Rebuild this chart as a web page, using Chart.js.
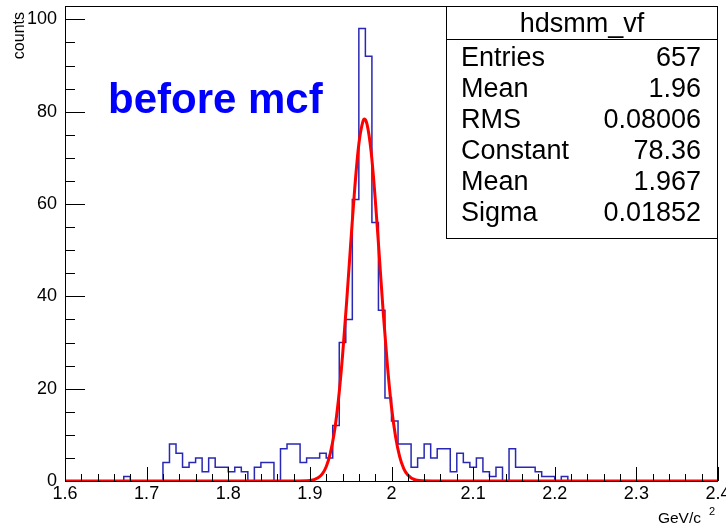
<!DOCTYPE html>
<html>
<head>
<meta charset="utf-8">
<script src="https://cdn.jsdelivr.net/npm/chart.js@4.4.1/dist/chart.umd.min.js"></script>
<style>
  html, body { margin: 0; padding: 0; background: #fff; }
  #wrap { width: 726px; height: 526px; }
</style>
</head>
<body>
<div id="wrap"><canvas id="histChart" width="726" height="526"></canvas></div>
<script>
// hdsmm_vf: 100 bins between 1.6 and 2.4 GeV/c^2
const xMin = 1.6;
const xMax = 2.4;
const yMax = 102.9;
const binWidth = 0.008;
const counts = [
  0, 0, 0, 0, 0, 0, 0, 0, 0, 1,
  0, 0, 0, 0, 0, 4, 8, 6, 3, 4,
  5, 2, 5, 3, 3, 2, 3, 2, 0, 3,
  4, 4, 0, 7, 8, 8, 4, 5, 5, 6,
  5, 12, 30, 35, 61, 98, 92, 56, 37, 18,
  13, 8, 8, 3, 5, 8, 5, 7, 7, 2,
  6, 4, 3, 5, 2, 1, 3, 0, 7, 3,
  3, 3, 2, 1, 1, 0, 1, 0, 0, 0,
  0, 0, 0, 0, 0, 0, 0, 0, 0, 0,
  0, 0, 0, 0, 0, 0, 0, 0, 0, 0
];

// gaus fit (red)
const fitX = [1.6, 1.88, 1.9, 1.91, 1.915, 1.92, 1.925, 1.93, 1.935, 1.94, 1.945, 1.95, 1.955, 1.96, 1.965, 1.967,
  1.97, 1.975, 1.98, 1.985, 1.99, 1.995, 2.0, 2.005, 2.01, 2.015, 2.02, 2.03, 2.05, 2.4];
const fitY = [0, 0, 0.1, 0.7, 1.5, 3.1, 6.0, 10.6, 17.6, 27.1, 38.7, 51.4, 63.5, 73.0, 77.9, 78.4,
  77.3, 71.4, 61.3, 48.9, 36.2, 25.0, 16.0, 9.6, 5.3, 2.7, 1.3, 0.2, 0, 0];

const statsTitle = "hdsmm_vf";
const statsNames = ["Entries", "Mean", "RMS", "Constant", "Mean", "Sigma"];
const statsValues = ["657", "1.96", "0.08006", "78.36", "1.967", "0.01852"];
const label = "before mcf";

const FONT = "'Liberation Sans', Arial, Helvetica, sans-serif";
Chart.defaults.font.family = FONT;
Chart.defaults.color = "#000";

// histogram outline: one point per bin low edge + closing edge
const histPoints = counts.map((c, i) => ({ x: xMin + i * binWidth, y: c }));
histPoints.push({ x: xMax, y: counts[counts.length - 1] });
const fitPoints = fitX.map((x, i) => ({ x: x, y: fitY[i] }));

// ROOT-like frame: inward ticks, stats box, text
const rootStyle = {
  id: "rootStyle",
  afterDatasetsDraw(chart) {
    const { ctx, chartArea: a, scales } = chart;
    const x = scales.x, y = scales.y;
    ctx.save();
    ctx.strokeStyle = "#000";
    ctx.lineWidth = 1;
    ctx.strokeRect(a.left + 0.5, a.top + 0.5, a.right - a.left - 1, a.bottom - a.top);
    ctx.beginPath();
    for (let i = 0; i <= 40; i++) {
      const px = Math.round(x.getPixelForValue(xMin + i * 0.02)) + 0.5;
      const len = i % 5 === 0 ? 14 : 7;
      ctx.moveTo(px, a.bottom);
      ctx.lineTo(px, a.bottom - len);
    }
    for (let v = 0; v <= 100; v += 5) {
      const py = Math.round(y.getPixelForValue(v)) + 0.5;
      const len = v % 20 === 0 ? 20 : 10;
      ctx.moveTo(a.left, py);
      ctx.lineTo(a.left + len, py);
    }
    ctx.stroke();
    ctx.restore();
  },
  afterDraw(chart) {
    const { ctx, chartArea: a } = chart;
    ctx.save();
    // stats box
    const bx = 446, by = a.top, bw = a.right - 446, bh = 232;
    ctx.fillStyle = "#fff";
    ctx.fillRect(bx, by, bw, bh);
    ctx.strokeStyle = "#000";
    ctx.lineWidth = 1;
    ctx.strokeRect(bx + 0.5, by + 0.5, bw - 1, bh);
    ctx.beginPath();
    ctx.moveTo(bx, 39.5);
    ctx.lineTo(bx + bw, 39.5);
    ctx.stroke();
    ctx.fillStyle = "#000";
    ctx.font = "27px " + FONT;
    ctx.textBaseline = "alphabetic";
    ctx.textAlign = "center";
    ctx.fillText(statsTitle, bx + bw / 2, 32);
    statsNames.forEach((n, i) => {
      const ty = 66 + i * 30.9;
      ctx.textAlign = "left";
      ctx.fillText(n, 461, ty);
      ctx.textAlign = "right";
      ctx.fillText(statsValues[i], 701, ty);
    });
    // label
    ctx.fillStyle = "#0000ff";
    ctx.font = "bold 42px " + FONT;
    ctx.textAlign = "left";
    ctx.fillText(label, 108, 113);
    // axis titles
    ctx.fillStyle = "#000";
    ctx.font = "15.5px " + FONT;
    ctx.textAlign = "right";
    ctx.fillText("GeV/c", 701, 523);
    ctx.font = "11px " + FONT;
    ctx.textAlign = "left";
    ctx.fillText("2", 709, 515);
    ctx.translate(24, 12);
    ctx.rotate(-Math.PI / 2);
    ctx.font = "16px " + FONT;
    ctx.textAlign = "right";
    ctx.fillText("counts", 0, 0);
    ctx.restore();
  }
};

const ctx = document.getElementById("histChart").getContext("2d");
const chart = new Chart(ctx, {
  type: "line",
  data: {
    datasets: [
      {
        label: "hdsmm_vf",
        data: histPoints,
        stepped: "before",
        borderColor: "rgb(40, 40, 180)",
        borderWidth: 1.5,
        pointRadius: 0,
        fill: false,
        order: 2,
      },
      {
        label: "gaus",
        data: fitPoints,
        cubicInterpolationMode: "monotone",
        borderColor: "#ff0000",
        borderWidth: 3,
        pointRadius: 0,
        fill: false,
        order: 1,
      },
    ],
  },
  options: {
    responsive: false,
    animation: false,
    events: [],
    layout: { autoPadding: false, padding: { top: 6, right: 8, left: 0, bottom: 0 } },
    plugins: { legend: { display: false }, tooltip: { enabled: false } },
    scales: {
      x: {
        type: "linear",
        min: xMin,
        max: xMax,
        grid: { display: false, drawTicks: false },
        border: { display: false },
        ticks: {
          stepSize: 0.1,
          padding: 2,
          maxRotation: 0,
          autoSkip: false,
          font: { size: 18 },
          callback: (v) => String(+v.toFixed(1)),
        },
        afterFit: (s) => { s.height = 45; s.paddingLeft = 0; s.paddingRight = 0; },
      },
      y: {
        min: 0,
        max: yMax,
        grid: { display: false, drawTicks: false },
        border: { display: false },
        ticks: {
          stepSize: 20,
          includeBounds: false,
          padding: 8,
          font: { size: 18 },
        },
        afterFit: (s) => { s.width = 65; s.paddingTop = 0; s.paddingBottom = 0; },
      },
    },
  },
  plugins: [rootStyle],
});
</script>
</body>
</html>
